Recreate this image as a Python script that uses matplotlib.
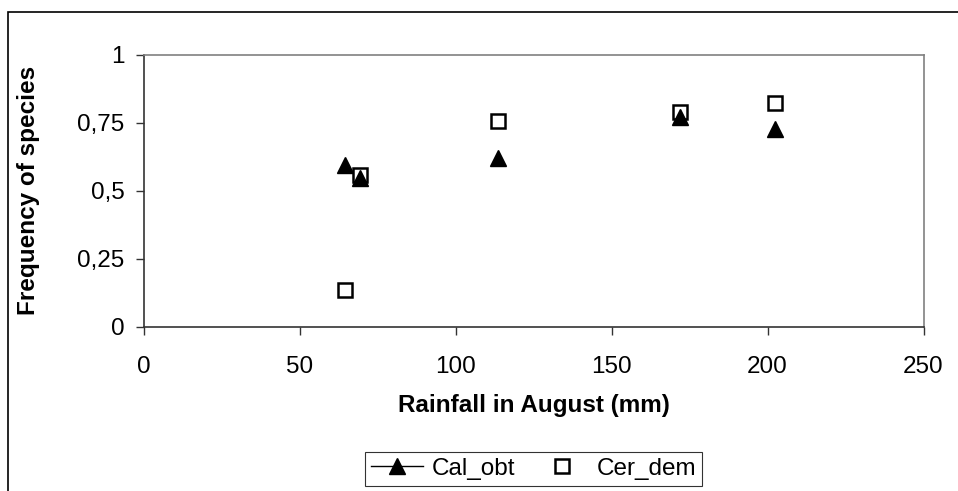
import matplotlib.pyplot as plt
from matplotlib.lines import Line2D
from matplotlib.patches import Rectangle

# Rainfall (mm) and species frequency
cal_rain = [64.5, 69.5, 113.5, 172.0, 202.3]
cal_freq = [0.595, 0.547, 0.620, 0.773, 0.727]
cer_rain = [64.5, 69.5, 113.5, 172.0, 202.3]
cer_freq = [0.133, 0.558, 0.757, 0.791, 0.822]

xticks = [0, 50, 100, 150, 200, 250]
yticks = [0, 0.25, 0.5, 0.75, 1]
ytick_labels = ['0', '0,25', '0,5', '0,75', '1']

plt.rcParams['font.family'] = ['Liberation Sans', 'DejaVu Sans']
FS = 17.5

fig = plt.figure(figsize=(9.58, 4.91), dpi=100)
ax = fig.add_axes([0.150, 0.335, 0.814, 0.553])

ax.plot(cal_rain, cal_freq, linestyle='none', marker='^', markersize=11,
        color='black', label='Cal_obt', zorder=3)
ax.plot(cer_rain, cer_freq, linestyle='none', marker='s', markersize=9.5,
        markerfacecolor='none', markeredgecolor='black', markeredgewidth=1.8,
        label='Cer_dem', zorder=4)

ax.set_xlim(0, 250)
ax.set_ylim(0, 1)
ax.set_xticks(xticks)
ax.set_yticks(yticks)
ax.set_yticklabels(ytick_labels)
ax.tick_params(direction='out', length=6, width=1, labelsize=FS, color='#333333')
ax.tick_params(axis='x', pad=15)
ax.tick_params(axis='y', pad=7.7)

ax.spines['left'].set_color('#333333')
ax.spines['bottom'].set_color('#333333')
ax.spines['top'].set_color('#808080')
ax.spines['right'].set_color('#808080')
for s in ax.spines.values():
    s.set_linewidth(1.2)

ax.set_xlabel('Rainfall in August (mm)', fontsize=FS, fontweight='bold')
ax.set_ylabel('Frequency of species', fontsize=FS, fontweight='bold')
ax.xaxis.set_label_coords(0.5, -0.2495)
ax.yaxis.set_label_coords(-0.1336, 0.5)

handles = [
    Line2D([], [], color='black', marker='^', markersize=11, linewidth=1),
    Line2D([], [], linestyle='none', marker='s', markersize=9.5,
           markerfacecolor='none', markeredgecolor='black', markeredgewidth=1.8),
]
leg = ax.legend(handles, ['Cal_obt', 'Cer_dem'], loc='center',
                bbox_to_anchor=(0.5, -0.524), ncol=2, fontsize=FS, frameon=True,
                fancybox=False, edgecolor='black', handlelength=2.14,
                handletextpad=0.37, columnspacing=0.82, borderpad=0.25)
leg.get_frame().set_linewidth(0.8)

# outer chart border
fig.patches.append(Rectangle((8 / 958, -0.01), 1.0, 1 - 12 / 491 + 0.01,
                             transform=fig.transFigure, fill=False,
                             edgecolor='black', linewidth=1.2))

fig.savefig('out.png', dpi=100)
